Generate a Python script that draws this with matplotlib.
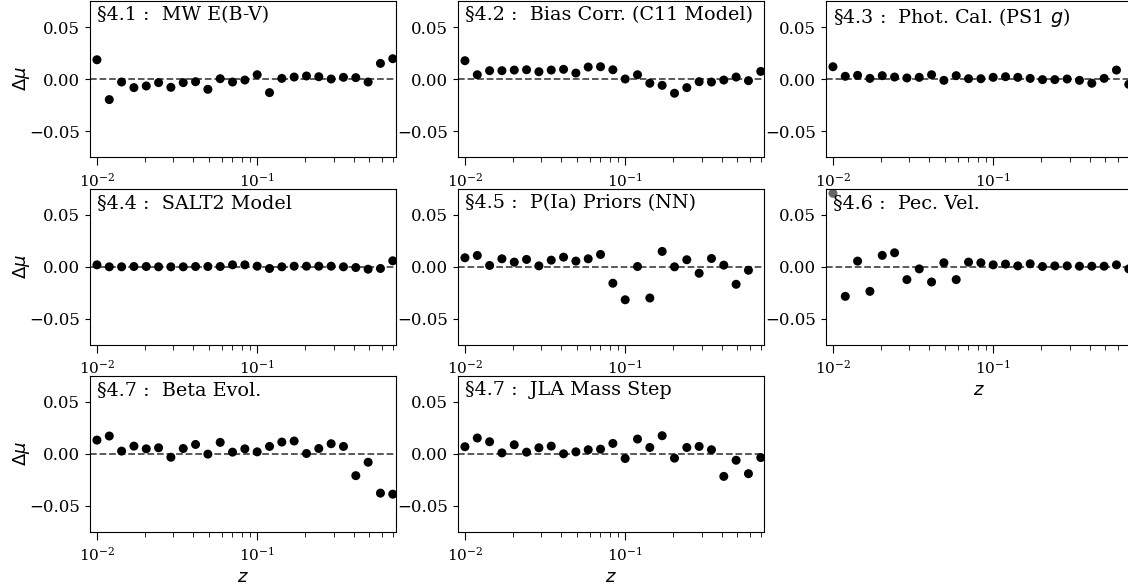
import numpy as np
import matplotlib
matplotlib.use("Agg")
import matplotlib.pyplot as plt

plt.rcParams['font.family'] = 'DejaVu Serif'
plt.rcParams['mathtext.fontset'] = 'dejavusans'

# redshift bins (log spaced, 13 per decade)
z = [0.0100, 0.01194, 0.01425, 0.01701, 0.02031, 0.02424, 0.02894, 0.03455,
     0.04125, 0.04924, 0.05878, 0.07017, 0.08377, 0.1000, 0.1194, 0.1425,
     0.1701, 0.2031, 0.2424, 0.2894, 0.3455, 0.4125, 0.4924, 0.5878, 0.7017]

mw_ebv = [0.0185, -0.0198, -0.0029, -0.0083, -0.0067, -0.0035, -0.0080, -0.0035,
          -0.0026, -0.0099, 0.0003, -0.0029, -0.0010, 0.0041, -0.0131, 0.0006,
          0.0019, 0.0029, 0.0022, 0.0000, 0.0016, 0.0013, -0.0029, 0.0150, 0.0195]
bias_corr = [0.0176, 0.0041, 0.0080, 0.0080, 0.0086, 0.0089, 0.0070, 0.0086,
             0.0093, 0.0057, 0.0115, 0.0118, 0.0089, 0.0000, 0.0041, -0.0041,
             -0.0061, -0.0137, -0.0083, -0.0026, -0.0029, -0.0010, 0.0019, -0.0016, 0.0073]
phot_cal = [0.0118, 0.0026, 0.0035, 0.0006, 0.0032, 0.0019, 0.0010, 0.0016,
            0.0041, -0.0013, 0.0032, 0.0003, 0.0003, 0.0016, 0.0022, 0.0016,
            0.0006, -0.0006, -0.0006, 0.0000, -0.0013, -0.0041, 0.0006, 0.0086, -0.0051]
salt2 = [0.0016, -0.0003, -0.0003, 0.0000, 0.0000, -0.0003, -0.0003, -0.0003,
         0.0000, 0.0000, 0.0000, 0.0016, 0.0016, 0.0003, -0.0019, -0.0003,
         0.0003, 0.0003, 0.0003, 0.0003, -0.0003, -0.0010, -0.0026, -0.0019, 0.0055]
pia_priors = [0.0084, 0.0106, 0.0010, 0.0074, 0.0042, 0.0068, 0.0006, 0.0061,
              0.0090, 0.0052, 0.0074, 0.0116, -0.0161, -0.0320, 0.0000, -0.0303,
              0.0145, -0.0003, 0.0065, -0.0065, 0.0077, 0.0013, -0.0171, -0.0036, np.nan]
pec_vel = [0.0704, -0.0287, 0.0052, -0.0239, 0.0107, 0.0132, -0.0126, -0.0023,
           -0.0149, 0.0036, -0.0126, 0.0042, 0.0036, 0.0016, 0.0023, 0.0006,
           0.0026, 0.0000, 0.0006, 0.0006, 0.0003, 0.0003, 0.0003, 0.0016, -0.0023]
beta_evol = [0.0129, 0.0168, 0.0023, 0.0071, 0.0045, 0.0055, -0.0036, 0.0048,
             0.0087, -0.0006, 0.0107, 0.0013, 0.0045, 0.0016, 0.0068, 0.0110,
             0.0120, 0.0000, 0.0048, 0.0094, 0.0068, -0.0213, -0.0084, -0.0381, -0.0391]
jla_mass = [0.0065, 0.0149, 0.0113, 0.0006, 0.0084, 0.0013, 0.0055, 0.0071,
            -0.0003, 0.0016, 0.0036, 0.0042, 0.0097, -0.0048, 0.0139, 0.0058,
            0.0171, -0.0045, 0.0058, 0.0068, 0.0036, -0.0220, -0.0065, -0.0194, -0.0039]

titles = [u'§4.1 :  MW E(B-V)', u'§4.2 :  Bias Corr. (C11 Model)',
          u'§4.3 :  Phot. Cal. (PS1 $g$)', u'§4.4 :  SALT2 Model',
          u'§4.5 :  P(Ia) Priors (NN)', u'§4.6 :  Pec. Vel.',
          u'§4.7 :  Beta Evol.', u'§4.7 :  JLA Mass Step']
series = [mw_ebv, bias_corr, phot_cal, salt2, pia_priors, pec_vel, beta_evol, jla_mass]

W, H = 1128, 585
fig = plt.figure(figsize=(W / 100, H / 100), dpi=100)

lefts = [90, 458, 826]
tops = [1, 188.5, 375.5]
aw, ah = 306, 156

for i, (title, dmu) in enumerate(zip(titles, series)):
    row, col = divmod(i, 3)
    ax = fig.add_axes([lefts[col] / W, (H - tops[row] - ah) / H, aw / W, ah / H])
    ax.axhline(0, color='0.3', ls='--', lw=1.3, zorder=1)
    colors = ['k'] * len(z)
    if i == 5:
        colors[0] = '0.4'
    ax.scatter(z, dmu, c=colors, s=42, zorder=2, edgecolors='none')
    ax.set_xscale('log')
    ax.set_xlim(0.00905, 0.735)
    ax.set_ylim(-0.075, 0.075)
    ax.set_yticks([-0.05, 0.0, 0.05])
    ax.tick_params(axis='y', labelsize=12)
    ax.tick_params(axis='x', which='major', labelsize=11, length=6, pad=4.5)
    ax.tick_params(axis='x', which='minor', length=3.5)
    ax.text(0.022, 0.965, title, transform=ax.transAxes, ha='left', va='top',
            fontsize=13.8)
    if col == 0:
        ax.set_ylabel(r'$\Delta\mu$', fontsize=13)
        ax.yaxis.set_label_coords(-0.19, 0.5)
    if i >= 5:
        ax.set_xlabel(r'$z$', fontsize=13, labelpad=3)

fig.savefig('out.png', dpi=100)
